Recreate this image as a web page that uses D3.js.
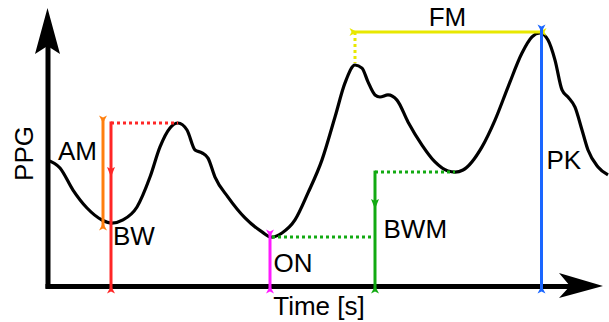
<!DOCTYPE html>
<html><head><meta charset="utf-8">
<script src="https://cdn.jsdelivr.net/npm/d3@7"></script>
<style>
html,body{margin:0;padding:0;background:#fff;}
svg{display:block;}
text{font-family:"Liberation Sans",Arial,sans-serif;font-size:26px;fill:#000;}
</style></head><body>
<svg id="c" width="609" height="322"></svg>
<script>
// ---- data (time in s, normalised PPG amplitude) ----
const timeS = [0.0,0.065,0.13,0.20,0.275,0.325,0.38,0.45,0.515,0.565,0.615,0.655,0.70,0.74,0.775,0.805,0.84,0.905,0.99,1.075,1.12,1.175,1.24,1.305,1.375,1.44,1.49,1.54,1.575,1.605,1.64,1.665,1.705,1.75,1.805,1.875,1.94,2.005,2.04,2.08,2.175,2.24,2.305,2.375,2.425,2.465,2.505,2.54,2.575,2.605,2.64,2.675,2.705,2.755,2.805];
const ppg   = [0.485,0.454,0.369,0.30,0.254,0.242,0.254,0.304,0.419,0.535,0.608,0.627,0.60,0.523,0.512,0.492,0.419,0.342,0.262,0.208,0.188,0.204,0.254,0.358,0.485,0.65,0.781,0.85,0.838,0.785,0.735,0.727,0.735,0.715,0.631,0.542,0.477,0.442,0.438,0.446,0.535,0.638,0.765,0.896,0.958,0.973,0.946,0.869,0.754,0.727,0.688,0.60,0.523,0.458,0.427];
const peakT   = [0.655, 1.54, 2.465];
const peakV   = [0.627, 0.85, 0.973];
const troughT = [0.325, 1.12, 2.04];
const troughV = [0.242, 0.188, 0.438];
const bwmT    = [1.64];
const featureLabels = ["AM","BW","ON","BWM","FM","PK"];
const axisLabels = ["Time [s]","PPG"];

// ---- drawing ----
const svg = d3.select("#c");
const x = d3.scaleLinear().domain([0, 2.8]).range([47, 607]);
const y = d3.scaleLinear().domain([0, 1]).range([286, 26]);

const C = {am:"#ff7f0e", bw:"#ff2626", on:"#ff1aff", bwm:"#12aa12", fm:"#e8e800", pk:"#1a66ff"};

// curve
const line = d3.line().x(i => x(timeS[i])).y(i => y(ppg[i])).curve(d3.curveMonotoneX);
svg.append("path").attr("d", line(d3.range(timeS.length)))
  .attr("fill","none").attr("stroke","#000").attr("stroke-width",3.2);

// axes
const xAxisScale = x.copy().range([45, 590]);
const gx = svg.append("g").attr("transform",`translate(0,${y(0)})`)
  .call(d3.axisBottom(xAxisScale).tickValues([]).tickSizeOuter(0));
gx.select(".domain").attr("stroke","#000").attr("stroke-width",5);
const yAxisScale = y.copy().range([288, 40]);
const gy = svg.append("g").attr("transform",`translate(${x(0)+0.5},0)`)
  .call(d3.axisLeft(yAxisScale).tickValues([]).tickSizeOuter(0));
gy.select(".domain").attr("stroke","#000").attr("stroke-width",5);
// arrow heads
svg.append("path").attr("d",`M${x(0)+0.5},8 L${x(0)+13},54 L${x(0)+0.5},46 L${x(0)-12},54 Z`).attr("fill","#000");
svg.append("path").attr("d",`M603,${y(0)} L559,${y(0)-13} L570,${y(0)} L559,${y(0)+12} Z`).attr("fill","#000");

function vline(xp, y1, y2, col, dotted){
  svg.append("line").attr("x1",xp).attr("x2",xp).attr("y1",y1).attr("y2",y2)
    .attr("stroke",col).attr("stroke-width",3)
    .attr("stroke-dasharray", dotted ? "3,3" : null);
}
function hline(y0, x1, x2, col, dotted){
  svg.append("line").attr("x1",x1).attr("x2",x2).attr("y1",y0).attr("y2",y0)
    .attr("stroke",col).attr("stroke-width",3)
    .attr("stroke-dasharray", dotted ? "3,3" : null);
}
// tail marker: tip at (xp,yp), base pointing outward; angle 0 = outward up
function tail(xp, yp, ang, col){
  svg.append("path").attr("d","M0,0 L-4,-7.5 L0,-5.5 L4,-7.5 Z")
    .attr("transform",`translate(${xp},${yp}) rotate(${ang})`).attr("fill",col);
}
function midArrow(xp, yp, col){
  svg.append("path").attr("d","M-4,-5 L0,5 L4,-5 L0,-3 Z")
    .attr("transform",`translate(${xp},${yp})`).attr("fill",col);
}

// AM (orange)
const xAM = x(troughT[0]) - 9;
vline(xAM, y(peakV[0]) - 3, y(troughV[0]) + 3, C.am);
tail(xAM, y(peakV[0]), 0, C.am);
tail(xAM, y(troughV[0]), 180, C.am);

// BW (red)
const xBW = x(troughT[0]) - 1;
hline(y(peakV[0]), xBW, x(peakT[0]), C.bw, true);
vline(xBW, y(peakV[0]) - 1.5, y(0) + 3, C.bw);
midArrow(xBW, y(peakV[0]) + 0.3*(y(0)-y(peakV[0])), C.bw);
tail(xBW, y(0), 180, C.bw);

// ON (magenta)
const xON = x(troughT[1]) - 1;
vline(xON, y(troughV[1]) - 3, y(0) + 3, C.on);
tail(xON, y(troughV[1]), 0, C.on);
tail(xON, y(0), 180, C.on);

// BWM (green)
const xBWM = x(bwmT[0]);
hline(y(troughV[1]), xON + 2, xBWM, C.bwm, true);
hline(y(troughV[2]), xBWM, x(troughT[2]), C.bwm, true);
vline(xBWM, y(troughV[2]) - 1.5, y(0) + 3, C.bwm);
midArrow(xBWM, y(troughV[2]) + 0.28*(y(0)-y(troughV[2])), C.bwm);
tail(xBWM, y(0), 180, C.bwm);

// FM (yellow)
const yFM = y(peakV[2]) - 1;
vline(x(peakT[1]), yFM, y(peakV[1]) - 2, C.fm, true);
hline(yFM, x(peakT[1]) - 3, x(peakT[2]) + 3, C.fm);
tail(x(peakT[1]) + 2, yFM, -90, C.fm);
tail(x(peakT[2]) - 1, yFM, 90, C.fm);

// PK (blue)
const xPK = x(peakT[2]) + 1.5;
vline(xPK, yFM - 3, y(0) + 3, C.pk);
tail(xPK, yFM, 0, C.pk);
tail(xPK, y(0), 180, C.pk);

// labels
const lab = [
  {t:featureLabels[0], x:xAM - 6, y:y(peakV[0]) + 37, a:"end"},
  {t:featureLabels[1], x:xBW + 2, y:y(troughV[0]) + 22, a:"start"},
  {t:featureLabels[2], x:xON + 3.5, y:y(0) - 14, a:"start"},
  {t:featureLabels[3], x:xBWM + 8.5, y:y(troughV[1]) + 1, a:"start"},
  {t:featureLabels[4], x:(x(peakT[1]) + x(peakT[2]))/2, y:yFM - 6, a:"middle"},
  {t:featureLabels[5], x:xPK + 5, y:y(troughV[2]) - 3, a:"start"},
  {t:axisLabels[0], x:319, y:315, a:"middle"}
];
svg.selectAll("text.lab").data(lab).join("text").attr("class","lab")
  .attr("x", d => d.x).attr("y", d => d.y).attr("text-anchor", d => d.a).text(d => d.t);
svg.append("text").attr("transform","translate(33,153.5) rotate(-90)")
  .attr("text-anchor","middle").text(axisLabels[1]);
</script>
</body></html>
